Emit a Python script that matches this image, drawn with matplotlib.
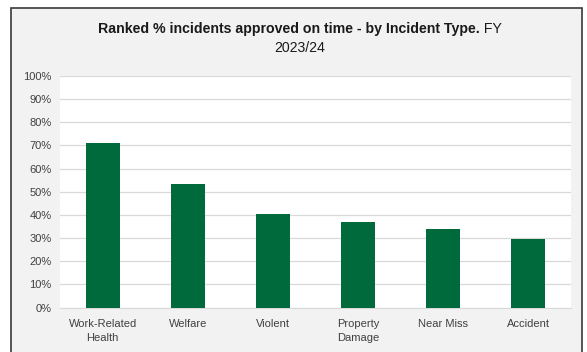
import numpy as np
import matplotlib.pyplot as plt
from matplotlib.patches import Rectangle
from matplotlib.ticker import PercentFormatter

categories = ['Work-Related\nHealth', 'Welfare', 'Violent', 'Property\nDamage', 'Near Miss', 'Accident']
values = [71.2, 53.5, 40.6, 36.9, 33.9, 29.6]

plt.rcParams['font.family'] = ['Liberation Sans', 'DejaVu Sans']

fig = plt.figure(figsize=(5.87, 3.52), dpi=100, facecolor='white')

# grey chart area with dark frame (cropped at the bottom)
fig.patches.append(Rectangle((11/587, -0.05), (582-11)/587, 1.05 - 8/352,
                             transform=fig.transFigure, facecolor='#f2f2f2',
                             edgecolor='#3a3a3a', linewidth=1.2, zorder=-5))

ax = fig.add_axes([60/587, 1 - 307.5/352, (571-60)/587, (307.5-76)/352])
ax.set_facecolor('white')
ax.set_zorder(2)

x = np.arange(len(categories))
ax.bar(x, values, width=0.4, color='#006a3c', zorder=3)

ax.set_ylim(0, 100)
ax.set_xlim(-0.5, len(categories) - 0.5)
ax.set_yticks(np.arange(0, 101, 10))
ax.yaxis.set_major_formatter(PercentFormatter(decimals=0))
ax.set_xticks(x)
ax.set_xticklabels(categories, linespacing=1.5)
ax.tick_params(axis='both', length=0, labelsize=8, colors='#404040', pad=6)
ax.tick_params(axis='x', pad=8)
ax.grid(axis='y', color='#d9d9d9', linewidth=0.9, zorder=0)
for s in ['top', 'right', 'left']:
    ax.spines[s].set_visible(False)
ax.spines['bottom'].set_color('#d9d9d9')

# title: bold part + normal "FY" on one line, "2023/24" below
fs = 10.2
t1 = fig.text(0, 1 - 29/352, 'Ranked % incidents approved on time - by Incident Type.',
              fontsize=fs, fontweight='bold', color='#1a1a1a', va='center', ha='left', zorder=5)
t2 = fig.text(0, 1 - 29/352, ' FY', fontsize=fs, color='#1a1a1a', va='center', ha='left', zorder=5)
fig.canvas.draw()
r = fig.canvas.get_renderer()
w1 = t1.get_window_extent(r).width
w2 = t2.get_window_extent(r).width
left = 300 - (w1 + w2) / 2
t1.set_x(left / 587)
t2.set_x((left + w1) / 587)
fig.text(300/587, 1 - 48/352, '2023/24', fontsize=fs, color='#1a1a1a',
         va='center', ha='center', zorder=5)

fig.savefig('out.png', dpi=100, facecolor='white')
